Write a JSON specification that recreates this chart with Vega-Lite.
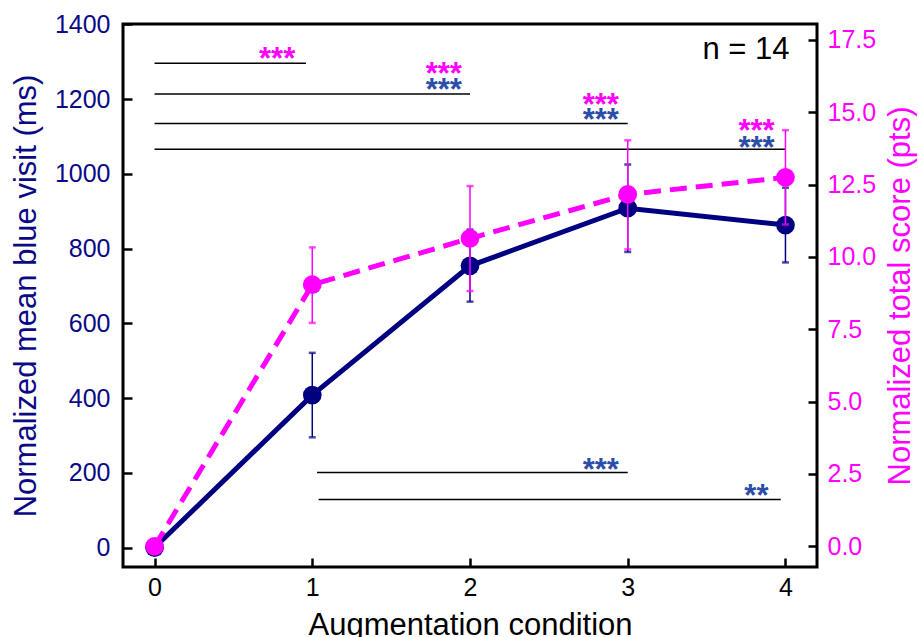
{
  "$schema": "https://vega.github.io/schema/vega-lite/v6.json",
  "width": 694,
  "height": 543,
  "autosize": {"type": "none"},
  "padding": {"left": 123, "top": 24, "right": 102, "bottom": 70},
  "background": "white",
  "config": {
    "view": {"stroke": "black", "strokeWidth": 3},
    "font": "Liberation Sans",
    "axis": {
      "domain": false,
      "grid": false,
      "tickSize": -9,
      "tickWidth": 2.5,
      "tickColor": "black",
      "labelFont": "Liberation Sans",
      "titleFont": "Liberation Sans",
      "labelFontSize": 25,
      "titleFontSize": 31,
      "titleFontWeight": "normal"
    }
  },
  "datasets": {
    "blue": [
      {"x": 0, "y": 0, "lo": 0, "hi": 0},
      {"x": 1, "y": 408, "lo": 295, "hi": 521},
      {"x": 2, "y": 754, "lo": 658, "hi": 851},
      {"x": 3, "y": 908, "lo": 791, "hi": 1025},
      {"x": 4, "y": 863, "lo": 763, "hi": 963}
    ],
    "pink": [
      {"x": 0, "y": 0, "lo": 0, "hi": 0},
      {"x": 1, "y": 9.04, "lo": 7.72, "hi": 10.33},
      {"x": 2, "y": 10.64, "lo": 8.82, "hi": 12.45},
      {"x": 3, "y": 12.16, "lo": 10.26, "hi": 14.03},
      {"x": 4, "y": 12.75, "lo": 11.12, "hi": 14.38}
    ],
    "sig": [
      {"x": 0, "x2": 0.96, "y": 1296},
      {"x": 0, "x2": 2.0, "y": 1214},
      {"x": 0, "x2": 3.0, "y": 1135},
      {"x": 0, "x2": 4.0, "y": 1066},
      {"x": 1.03, "x2": 3.0, "y": 201},
      {"x": 1.04, "x2": 3.97, "y": 128.5}
    ],
    "stars": [
      {"x": 0.777, "y": 1330, "label": "***", "group": "pink"},
      {"x": 1.834, "y": 1289, "label": "***", "group": "pink"},
      {"x": 1.834, "y": 1247, "label": "***", "group": "blue"},
      {"x": 2.829, "y": 1206, "label": "***", "group": "pink"},
      {"x": 2.829, "y": 1165, "label": "***", "group": "blue"},
      {"x": 3.817, "y": 1135, "label": "***", "group": "pink"},
      {"x": 3.817, "y": 1091, "label": "***", "group": "blue"},
      {"x": 2.829, "y": 229, "label": "***", "group": "blue"},
      {"x": 3.816, "y": 160, "label": "**", "group": "blue"}
    ],
    "note": [
      {"x": 3.75, "y": 1331, "label": "n = 14"}
    ]
  },
  "encoding": {
    "x": {
      "field": "x",
      "type": "quantitative",
      "title": "Augmentation condition",
      "scale": {"domain": [-0.2, 4.2], "nice": false, "zero": false},
      "axis": {
        "values": [0, 1, 2, 3, 4],
        "labelColor": "black",
        "titleColor": "black",
        "labelPadding": 17,
        "titleY": 67,
        "titleBaseline": "alphabetic"
      }
    }
  },
  "layer": [
    {
      "layer": [
        {
          "data": {"name": "sig"},
          "mark": {"type": "rule", "color": "black", "strokeWidth": 1.5},
          "encoding": {
            "x2": {"field": "x2"},
            "y": {
              "field": "y",
              "type": "quantitative",
              "title": "Normalized mean blue visit (ms)",
              "scale": {"domain": [-52, 1401], "nice": false, "zero": false},
              "axis": {
                "orient": "left",
                "values": [0, 200, 400, 600, 800, 1000, 1200, 1400],
                "format": "d",
                "labelColor": "#0a0a85",
                "titleColor": "#0a0a85",
                "labelPadding": 22,
                "titleAngle": 270,
                "titleX": -97,
                "titleY": 271.5,
                "titleBaseline": "middle",
                "titleAlign": "center"
              }
            }
          }
        },
        {
          "data": {"name": "blue"},
          "mark": {"type": "line", "color": "#000080", "strokeWidth": 5},
          "encoding": {"y": {"field": "y", "type": "quantitative", "title": "Normalized mean blue visit (ms)"}}
        },
        {
          "data": {"name": "blue"},
          "mark": {"type": "rule", "color": "#000080", "strokeWidth": 1.5},
          "encoding": {
            "y": {"field": "lo", "type": "quantitative", "title": "Normalized mean blue visit (ms)"},
            "y2": {"field": "hi"}
          }
        },
        {
          "data": {"name": "blue"},
          "mark": {"type": "tick", "orient": "horizontal", "color": "#000080", "size": 7, "thickness": 2.5},
          "encoding": {"y": {"field": "lo", "type": "quantitative", "title": "Normalized mean blue visit (ms)"}}
        },
        {
          "data": {"name": "blue"},
          "mark": {"type": "tick", "orient": "horizontal", "color": "#000080", "size": 7, "thickness": 2.5},
          "encoding": {"y": {"field": "hi", "type": "quantitative", "title": "Normalized mean blue visit (ms)"}}
        },
        {
          "data": {"name": "blue"},
          "mark": {"type": "circle", "color": "#000080", "size": 350, "opacity": 1},
          "encoding": {"y": {"field": "y", "type": "quantitative", "title": "Normalized mean blue visit (ms)"}}
        },
        {
          "data": {"name": "stars"},
          "mark": {"type": "text", "font": "Liberation Sans", "fontSize": 31, "fontWeight": "bold", "baseline": "alphabetic", "align": "center", "dy": 18},
          "encoding": {
            "y": {"field": "y", "type": "quantitative", "title": "Normalized mean blue visit (ms)"},
            "text": {"field": "label"},
            "color": {
              "field": "group",
              "type": "nominal",
              "scale": {"domain": ["blue", "pink"], "range": ["#2b4ea8", "#ff00ff"]},
              "legend": null
            }
          }
        },
        {
          "data": {"name": "note"},
          "mark": {"type": "text", "font": "Liberation Sans", "fontSize": 31, "baseline": "middle", "align": "center", "color": "black"},
          "encoding": {
            "y": {"field": "y", "type": "quantitative", "title": "Normalized mean blue visit (ms)"},
            "text": {"field": "label"}
          }
        }
      ]
    },
    {
      "layer": [
        {
          "data": {"name": "pink"},
          "mark": {"type": "line", "color": "#ff00ff", "strokeWidth": 5, "strokeDash": [17, 9]},
          "encoding": {
            "y": {
              "field": "y",
              "type": "quantitative",
              "title": "Normalized total score (pts)",
              "scale": {"domain": [-0.716, 18.05], "nice": false, "zero": false},
              "axis": {
                "orient": "right",
                "values": [0, 2.5, 5, 7.5, 10, 12.5, 15, 17.5],
                "format": ".1f",
                "labelColor": "#ff00ff",
                "titleColor": "#ff00ff",
                "labelPadding": 19,
                "titleAngle": 270,
                "titleX": 83,
                "titleY": 271.5,
                "titleBaseline": "middle",
                "titleAlign": "center"
              }
            }
          }
        },
        {
          "data": {"name": "pink"},
          "mark": {"type": "rule", "color": "#ff00ff", "strokeWidth": 1.5},
          "encoding": {
            "y": {"field": "lo", "type": "quantitative", "title": "Normalized total score (pts)"},
            "y2": {"field": "hi"}
          }
        },
        {
          "data": {"name": "pink"},
          "mark": {"type": "tick", "orient": "horizontal", "color": "#ff00ff", "size": 7, "thickness": 2.5},
          "encoding": {"y": {"field": "lo", "type": "quantitative", "title": "Normalized total score (pts)"}}
        },
        {
          "data": {"name": "pink"},
          "mark": {"type": "tick", "orient": "horizontal", "color": "#ff00ff", "size": 7, "thickness": 2.5},
          "encoding": {"y": {"field": "hi", "type": "quantitative", "title": "Normalized total score (pts)"}}
        },
        {
          "data": {"name": "pink"},
          "mark": {"type": "circle", "color": "#ff00ff", "size": 350, "opacity": 1},
          "encoding": {"y": {"field": "y", "type": "quantitative", "title": "Normalized total score (pts)"}}
        }
      ]
    }
  ],
  "resolve": {"scale": {"y": "independent"}}
}
